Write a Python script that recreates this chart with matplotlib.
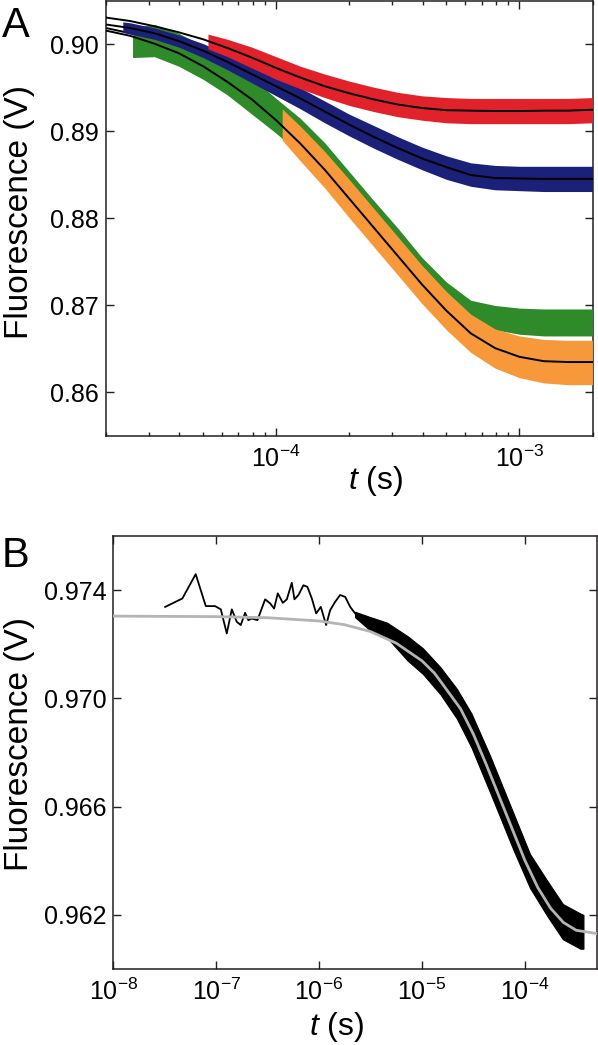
import numpy as np
import matplotlib
matplotlib.use("Agg")
import matplotlib.pyplot as plt
from matplotlib.ticker import FixedLocator, FormatStrFormatter, LogLocator, NullFormatter, NullLocator

plt.rcParams['font.family'] = ['Liberation Sans', 'DejaVu Sans']
plt.rcParams['mathtext.fontset'] = 'custom'
plt.rcParams['mathtext.rm'] = 'Liberation Sans'
plt.rcParams['mathtext.it'] = 'Liberation Sans:italic'
plt.rcParams['mathtext.default'] = 'regular'
plt.rcParams['axes.unicode_minus'] = False

# ---------------- Panel A data (log10 of time in s) ----------------
logt_fit_a = [-4.7, -4.6, -4.5, -4.4, -4.3, -4.2, -4.1, -4.0, -3.9, -3.8, -3.7,
              -3.6, -3.5, -3.4, -3.3, -3.2, -3.1, -3.0, -2.9, -2.8, -2.7]
fit_red = [0.9031, 0.9027, 0.9021, 0.9014, 0.9006, 0.8996, 0.8985, 0.8973, 0.8962, 0.8952, 0.8944,
           0.8937, 0.8931, 0.8927, 0.89245, 0.8924, 0.89235, 0.89235, 0.8924, 0.8924, 0.8925]
fit_blue = [0.9023, 0.9019, 0.9013, 0.9004, 0.8993, 0.8980, 0.8966, 0.8952, 0.8938, 0.8923, 0.8908,
            0.8894, 0.8881, 0.8869, 0.8859, 0.8850, 0.88465, 0.8846, 0.88455, 0.88455, 0.88455]
fit_green = [0.9019, 0.9013, 0.9004, 0.8993, 0.8978, 0.8960, 0.8940, 0.8918, 0.8894, 0.8866, 0.8836,
             0.8806, 0.8776, 0.8747, 0.8721, 0.8701, 0.8689, 0.8683, 0.8681, 0.8680, 0.8680]
fit_orange = [0.9016, 0.9010, 0.9001, 0.8990, 0.8975, 0.8957, 0.8937, 0.8913, 0.8886, 0.8856, 0.8823,
              0.8790, 0.8757, 0.8724, 0.8694, 0.8668, 0.8651, 0.8641, 0.8636, 0.8635, 0.8635]

logt_red = [-4.28, -4.2, -4.1, -4.0, -3.9, -3.8, -3.7, -3.6, -3.5, -3.4, -3.3, -3.2, -3.1, -3.0, -2.9, -2.8, -2.7]
red_hi = [0.9012, 0.9006, 0.8997, 0.8986, 0.8975, 0.8966, 0.8958, 0.8951, 0.8945, 0.8941, 0.8939,
          0.8938, 0.8938, 0.8938, 0.8938, 0.8938, 0.8939]
red_lo = [0.8995, 0.8986, 0.8973, 0.8960, 0.8949, 0.8939, 0.8930, 0.8923, 0.8917, 0.8913, 0.8910,
          0.8909, 0.8909, 0.8909, 0.8909, 0.8909, 0.8910]

logt_blue = [-4.63, -4.6, -4.5, -4.4, -4.3, -4.2, -4.1, -4.0, -3.9, -3.8, -3.7, -3.6, -3.5, -3.4,
             -3.3, -3.2, -3.1, -3.0, -2.9, -2.8, -2.7]
blue_hi = [0.9026, 0.9025, 0.9019, 0.9011, 0.9001, 0.8989, 0.8976, 0.8963, 0.8950, 0.8935, 0.8920,
           0.8907, 0.8894, 0.8882, 0.8872, 0.8864, 0.8861, 0.8860, 0.8860, 0.8860, 0.8860]
blue_lo = [0.9014, 0.9012, 0.9006, 0.8997, 0.8985, 0.8971, 0.8956, 0.8941, 0.8926, 0.8910, 0.8895,
           0.8881, 0.8868, 0.8856, 0.8845, 0.8837, 0.8833, 0.8832, 0.8831, 0.8831, 0.8831]

logt_green = [-4.59, -4.5, -4.4, -4.3, -4.2, -4.1, -4.0, -3.9, -3.8, -3.7, -3.6, -3.5, -3.4,
              -3.3, -3.2, -3.1, -3.0, -2.9, -2.8, -2.7]
green_hi = [0.9020, 0.9023, 0.9013, 0.8998, 0.8982, 0.8962, 0.8938, 0.8915, 0.8887, 0.8854, 0.8821,
            0.8789, 0.8755, 0.8727, 0.8706, 0.8700, 0.8697, 0.8696, 0.8696, 0.8696]
green_lo = [0.8985, 0.8986, 0.8975, 0.8960, 0.8942, 0.8920, 0.8898, 0.8874, 0.8846, 0.8818, 0.8788,
            0.8758, 0.8728, 0.8702, 0.8684, 0.8672, 0.8667, 0.8665, 0.8665, 0.8665]

logt_orange = [-3.975, -3.9, -3.8, -3.7, -3.6, -3.5, -3.4, -3.3, -3.2, -3.1, -3.0, -2.9, -2.8, -2.7]
orange_hi = [0.8926, 0.8906, 0.8877, 0.8845, 0.8812, 0.8779, 0.8746, 0.8716, 0.8690, 0.8673, 0.8665,
             0.8661, 0.8660, 0.8660]
orange_lo = [0.8890, 0.8866, 0.8835, 0.8801, 0.8768, 0.8735, 0.8702, 0.8672, 0.8646, 0.8628, 0.8617,
             0.8611, 0.8609, 0.8609]

# ---------------- Panel B data ----------------
logt_b_line = [-7.496, -7.329, -7.199, -7.101, -7.011, -6.955, -6.897, -6.848, -6.800, -6.761,
               -6.719, -6.687, -6.654, -6.599, -6.524, -6.476, -6.437, -6.401, -6.352, -6.313,
               -6.265, -6.239, -6.200, -6.152, -6.113, -6.070, -6.028, -5.983, -5.931, -5.892,
               -5.843, -5.795, -5.746, -5.697, -5.649]
b_line = [0.97338, 0.97369, 0.97459, 0.97341, 0.97341, 0.97329, 0.97240, 0.97329, 0.97283, 0.97271,
          0.97316, 0.97289, 0.97295, 0.97289, 0.97366, 0.97351, 0.97332, 0.97388, 0.97353, 0.97366,
          0.97427, 0.97366, 0.97382, 0.97418, 0.97412, 0.97369, 0.97314, 0.97338, 0.97271, 0.97326,
          0.97357, 0.97382, 0.97375, 0.97338, 0.97314]

logt_b_band = [-5.65, -5.50, -5.34, -5.14, -4.99, -4.82, -4.66, -4.52, -4.34, -4.11, -3.95,
               -3.78, -3.63, -3.46, -3.43]
b_hi = [0.97320, 0.97300, 0.97280, 0.97230, 0.97185, 0.97115, 0.97035, 0.96945, 0.96790, 0.96575,
        0.96425, 0.96325, 0.96240, 0.96205, 0.96200]
b_lo = [0.97300, 0.97250, 0.97225, 0.97140, 0.97090, 0.97015, 0.96925, 0.96820, 0.96655, 0.96440,
        0.96300, 0.96195, 0.96110, 0.96075, 0.96075]

logt_b_fit = [-8.0, -7.0, -6.5, -6.0, -5.75, -5.5, -5.25, -5.0, -4.875, -4.75, -4.625, -4.5,
              -4.375, -4.25, -4.125, -4.0, -3.875, -3.75, -3.625, -3.5, -3.3]
b_fit = [0.97304, 0.97302, 0.97298, 0.97286, 0.97272, 0.97247, 0.97204, 0.97139, 0.97092, 0.97027,
         0.96962, 0.96868, 0.96756, 0.96638, 0.96520, 0.96402, 0.96302, 0.96225, 0.96172, 0.96143,
         0.96131]

C_RED = '#e2222b'
C_BLUE = '#1b2078'
C_GREEN = '#2f8a2a'
C_ORANGE = '#f7993a'
SPINE = '#231f20'


def t(v):
    return np.power(10.0, np.asarray(v))


fig = plt.figure(figsize=(5.98, 10.45), dpi=100)
axA = fig.add_axes([106 / 598, 1 - 436 / 1045, 486.7 / 598, 435 / 1045])
axB = fig.add_axes([113.3 / 598, 1 - 969 / 1045, 483.4 / 598, 433 / 1045])

# ---- Panel A ----
axA.plot(t(logt_fit_a), fit_green, color='black', lw=1.4, zorder=2)
axA.fill_between(t(logt_green), green_lo, green_hi, color=C_GREEN, lw=0, zorder=3)
axA.fill_between(t(logt_orange), orange_lo, orange_hi, color=C_ORANGE, lw=0, zorder=3.5)
axA.fill_between(t(logt_blue), blue_lo, blue_hi, color=C_BLUE, lw=0, zorder=4)
axA.fill_between(t(logt_red), red_lo, red_hi, color=C_RED, lw=0, zorder=5)
for f in (fit_orange, fit_blue, fit_red):
    axA.plot(t(logt_fit_a), f, color='black', lw=1.4, zorder=6)

axA.set_xscale('log')
axA.set_xlim(2e-5, 2e-3)
axA.set_ylim(0.855, 0.905)
axA.yaxis.set_major_locator(FixedLocator([0.86, 0.87, 0.88, 0.89, 0.90]))
axA.yaxis.set_major_formatter(FormatStrFormatter('%.2f'))
axA.xaxis.set_major_locator(LogLocator(base=10, numticks=10))
axA.xaxis.set_minor_locator(LogLocator(base=10, subs=np.arange(2, 10), numticks=20))
axA.xaxis.set_minor_formatter(NullFormatter())

# ---- Panel B ----
axB.plot(t(logt_b_line), b_line, color='black', lw=1.3, zorder=3)
axB.fill_between(t(logt_b_band), b_lo, b_hi, color='black', lw=0.8, edgecolor='black', zorder=3)
axB.plot(t(logt_b_fit), b_fit, color='#b4b4b4', lw=2.0, zorder=4)

axB.set_xscale('log')
axB.set_xlim(1e-8, 5e-4)
axB.set_ylim(0.960, 0.976)
axB.yaxis.set_major_locator(FixedLocator([0.962, 0.966, 0.970, 0.974]))
axB.yaxis.set_major_formatter(FormatStrFormatter('%.3f'))
axB.xaxis.set_major_locator(LogLocator(base=10, numticks=10))
axB.xaxis.set_minor_locator(NullLocator())

for ax in (axA, axB):
    for s in ax.spines.values():
        s.set_linewidth(1.1)
        s.set_color(SPINE)
    ax.tick_params(which='both', direction='in', top=True, right=True, color=SPINE,
                   labelsize=18, width=1.0)
    ax.tick_params(which='major', length=6)
    ax.tick_params(which='minor', length=3)
    ax.tick_params(axis='y', pad=5)
    ax.tick_params(axis='x', pad=7)
    ax.set_ylabel('Fluorescence (V)', fontsize=24)
    ax.set_xlabel(r'$\mathit{t}$ (s)', fontsize=23)

axA.yaxis.set_label_coords(-0.146, 0.515)
axA.xaxis.set_label_coords(0.553, -0.064)
axB.yaxis.set_label_coords(-0.162, 0.52)
axB.xaxis.set_label_coords(0.461, -0.094)

fig.text(2 / 598, 1 - 37 / 1045, 'A', fontsize=30, ha='left', va='baseline')
fig.text(2 / 598, 1 - 567 / 1045, 'B', fontsize=30, ha='left', va='baseline')

fig.savefig('out.png', dpi=100)
